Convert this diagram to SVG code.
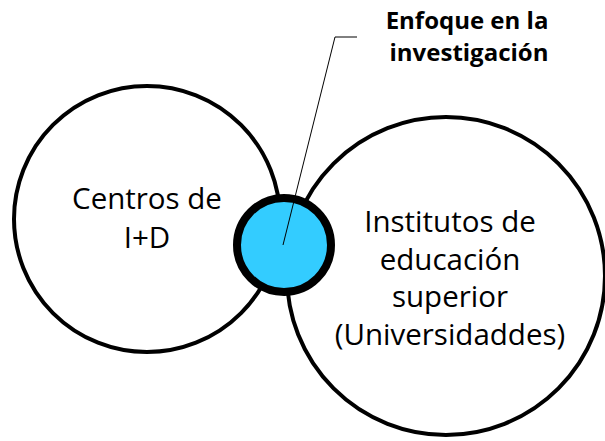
<svg xmlns="http://www.w3.org/2000/svg" width="605" height="441" viewBox="0 0 605 441">
<style>
.big{fill:#fff;stroke:#000;stroke-width:4}
.lbl{font-family:"Open Sans","Noto Sans",sans-serif;font-size:29.5px;fill:#000;text-anchor:middle}
.ttl{font-family:"Open Sans","Noto Sans",sans-serif;font-size:24px;font-weight:bold;fill:#000;text-anchor:middle}
</style>
<rect width="605" height="441" fill="#fff"/>
<g id="centros">
<circle class="big" cx="147" cy="219" r="133"/>
<text class="lbl" x="147" y="209">Centros de</text>
<text class="lbl" x="147" y="248">I+D</text>
</g>
<g id="institutos">
<circle class="big" cx="446" cy="276" r="159"/>
<text class="lbl" x="450" y="232">Institutos de</text>
<text class="lbl" x="450" y="270">educación</text>
<text class="lbl" x="450" y="307">superior</text>
<text class="lbl" x="450" y="345">(Universidaddes)</text>
</g>
<g id="enfoque">
<circle cx="284" cy="245" r="47" fill="#33ccff" stroke="#000" stroke-width="8"/>
<text class="ttl" x="467" y="29">Enfoque en la</text>
<text class="ttl" x="469" y="61">investigación</text>
</g>
<g id="connectors">
<polyline points="283,245 335,37 357,37" fill="none" stroke="#000" stroke-width="1"/>
</g>
</svg>
